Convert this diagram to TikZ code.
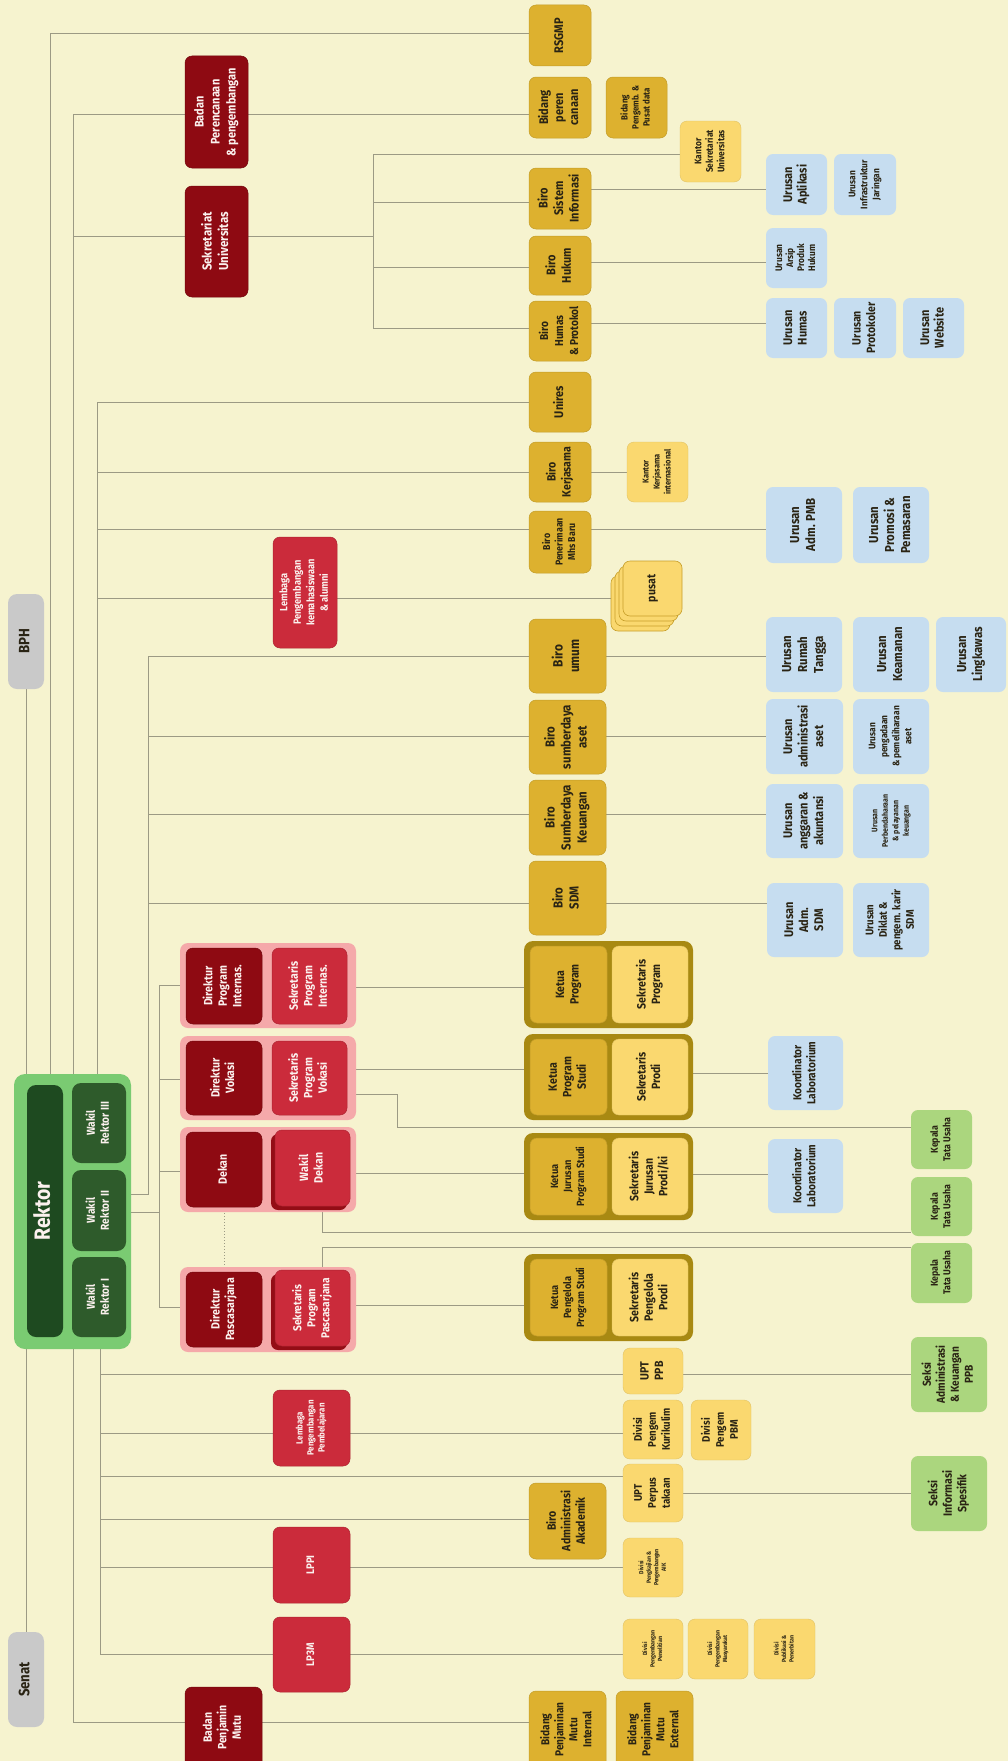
\documentclass[tikz,border=0pt]{standalone}
\usepackage{fontspec}
\setmainfont{Fira Sans}[FakeStretch=0.88]
\usepackage{graphicx}
\usetikzlibrary{calc}
\pgfdeclarelayer{bg}
\pgfsetlayers{bg,main}
\definecolor{bgc}{HTML}{F6F3CF}
\definecolor{linec}{HTML}{9C9A84}
\definecolor{dredc}{HTML}{8E0A12}
\definecolor{redc}{HTML}{CB2B3B}
\definecolor{pinkc}{HTML}{F5A9AA}
\definecolor{goldc}{HTML}{DDB12F}
\definecolor{goldgc}{HTML}{A88912}
\definecolor{yelc}{HTML}{FAD86F}
\definecolor{bluec}{HTML}{C6DDF0}
\definecolor{grnc}{HTML}{ABD67E}
\definecolor{rekgc}{HTML}{7ACB72}
\definecolor{dgrnc}{HTML}{1E4A20}
\definecolor{mgrnc}{HTML}{2E5B2B}
\definecolor{greyc}{HTML}{C9C9C9}
\definecolor{txtd}{HTML}{2A2414}
\definecolor{txtw}{HTML}{FBF1EE}
\newcommand{\fz}[2]{\fontsize{#1}{#2}\selectfont}
\newcommand{\ob}[8]{%
  \node[#2, minimum width={(#5)-(#3)}, minimum height={(#6)-(#4)}] (#1)
    at ({((#3)+(#5))/2},{((#4)+(#6))/2})
    {\rotatebox{90}{#7\begin{tabular}{@{}c@{}}#8\end{tabular}}};}
\newcommand{\gb}[6]{%
  \node[#2, minimum width={(#5)-(#3)}, minimum height={(#6)-(#4)}] (#1)
    at ({((#3)+(#5))/2},{((#4)+(#6))/2}) {};}
\newcommand{\hc}[3]{\draw[conn] (#1.east |- 0,#3) -- (#2.west |- 0,#3);}
\tikzset{
  bx/.style={rounded corners=7pt, inner sep=0pt, outer sep=0pt, font=\bfseries},
  sgold/.style={bx, fill=goldc, draw=goldc!88!black, line width=0.5pt, text=txtd},
  syel/.style={bx, fill=yelc, draw=yelc!90!black, line width=0.4pt, text=txtd},
  spus/.style={bx, fill=yelc, draw=goldc!90!black, line width=0.6pt, text=txtd},
  sblue/.style={bx, fill=bluec, text=txtd},
  sgrn/.style={bx, fill=grnc, text=txtd},
  sdred/.style={bx, fill=dredc, draw=dredc!80!black, line width=0.5pt, text=txtw},
  sred/.style={bx, fill=redc, draw=redc!85!black, line width=0.5pt, text=txtw},
  spink/.style={bx, rounded corners=8pt, fill=pinkc},
  sgoldg/.style={bx, rounded corners=9pt, fill=goldgc},
  srekg/.style={bx, rounded corners=11pt, fill=rekgc},
  sdgrn/.style={bx, rounded corners=9pt, fill=dgrnc, text=txtw},
  smgrn/.style={bx, rounded corners=9pt, fill=mgrnc, text=txtw},
  sgrey/.style={bx, rounded corners=9pt, fill=greyc, text=txtd},
  conn/.style={draw=linec, line width=1pt},
}
\begin{document}
\begin{tikzpicture}[x=1pt,y=-1pt]
\useasboundingbox (0,0) rectangle (1008,1761);

% ---------- top part ----------
\ob{rsgmp}{sgold}{529}{5}{591}{66}{\fz{12.5}{15}}{RSGMP}
\ob{bapp}{sdred}{185}{56}{248}{168}{\fz{12.5}{16}}{Badan\\Perencanaan\\\& pengembangan}
\ob{sekuniv}{sdred}{185}{186}{248}{297}{\fz{13}{16.5}}{Sekretariat\\Universitas}
\ob{bperen}{sgold}{529}{77}{591}{138}{\fz{12.5}{15}}{Bidang\\peren\\canaan}
\ob{bpengemb}{sgold}{606}{77}{667}{138}{\fz{9}{11}}{Bidang\\Pengemb. \&\\Pusat data}
\ob{kantorsek}{syel}{680}{121}{741}{182}{\fz{9.5}{11.5}}{Kantor\\Sekretariat\\Universitas}
\ob{bsi}{sgold}{529}{168}{591}{229}{\fz{12.5}{15.5}}{Biro\\Sistem\\Informasi}
\ob{bhukum}{sgold}{529}{236}{591}{295}{\fz{12.5}{15.5}}{Biro\\Hukum}
\ob{bhumas}{sgold}{529}{301}{591}{361}{\fz{11.5}{15}}{Biro\\Humas\\\& Protokol}
\ob{unires}{sgold}{529}{372}{591}{432}{\fz{12.5}{15}}{Unires}
\ob{uapl}{sblue}{766}{154}{827}{215}{\fz{12.5}{14.5}}{Urusan\\Aplikasi}
\ob{uinfra}{sblue}{834}{154}{896}{215}{\fz{9.5}{12}}{Urusan\\Infrastruktur\\Jaringan}
\ob{uarsip}{sblue}{766}{228}{827}{288}{\fz{9.5}{11}}{Urusan\\Arsip\\Produk\\Hukum}
\ob{uhumas}{sblue}{766}{298}{827}{358}{\fz{12.5}{14.5}}{Urusan\\Humas}
\ob{uprot}{sblue}{834}{298}{896}{358}{\fz{12}{14.5}}{Urusan\\Protokoler}
\ob{uweb}{sblue}{903}{298}{964}{358}{\fz{12.5}{14.5}}{Urusan\\Website}

\ob{bph}{sgrey}{8}{594}{44}{689}{\fz{15}{17}}{BPH}
\ob{lkema}{sred}{273}{537}{337}{648}{\fz{10.5}{13.5}}{Lembaga\\Pengembangan\\kemahasiswaan\\\& alumni}
\ob{bkerja}{sgold}{529}{442}{591}{502}{\fz{12}{15}}{Biro\\Kerjasama}
\ob{kkerja}{syel}{627}{442}{688}{502}{\fz{8.5}{11}}{Kantor\\Kerjasama\\internasional}
\ob{bpmb}{sgold}{529}{511}{591}{573}{\fz{10}{12.5}}{Biro\\Penerimaan\\Mhs Baru}
\gb{p3}{spus}{611}{576}{670}{631}
\gb{p2}{spus}{615}{571}{674}{626}
\gb{p1}{spus}{619}{566}{678}{621}
\ob{pusat}{spus}{623}{561}{682}{616}{\fz{12}{14}}{pusat}

\ob{bumum}{sgold}{529}{619}{606}{693}{\fz{13.5}{16.5}}{Biro\\umum}
\ob{baset}{sgold}{529}{700}{606}{774}{\fz{13}{16}}{Biro\\sumberdaya\\aset}
\ob{bkeu}{sgold}{529}{780}{606}{855}{\fz{13}{16}}{Biro\\Sumberdaya\\Keuangan}
\ob{bsdm}{sgold}{529}{861}{606}{935}{\fz{13}{16}}{Biro\\SDM}
\ob{uadmpmb}{sblue}{766}{487}{842}{563}{\fz{13}{16}}{Urusan\\Adm. PMB}
\ob{upromosi}{sblue}{853}{487}{929}{563}{\fz{13}{16}}{Urusan\\Promosi \&\\Pemasaran}
\ob{urumah}{sblue}{766}{617}{842}{692}{\fz{13}{16}}{Urusan\\Rumah\\Tangga}
\ob{ukeam}{sblue}{853}{617}{929}{692}{\fz{13}{16}}{Urusan\\Keamanan}
\ob{uling}{sblue}{936}{617}{1006}{692}{\fz{13}{16}}{Urusan\\Lingkawas}
\ob{uadmaset}{sblue}{766}{699}{843}{774}{\fz{12.5}{15.5}}{Urusan\\administrasi\\aset}
\ob{upengadaan}{sblue}{853}{699}{929}{774}{\fz{9.5}{12}}{Urusan\\pengadaan\\\& pemeliharaan\\aset}
\ob{uanggaran}{sblue}{766}{784}{843}{858}{\fz{12.5}{15.5}}{Urusan\\anggaran \&\\akuntansi}
\ob{uperbend}{sblue}{853}{784}{929}{858}{\fz{8}{10.5}}{Urusan\\Perbendaharaan\\\& pelayanan\\keuangan}
\ob{uadmsdm}{sblue}{767}{883}{843}{957}{\fz{12.5}{15}}{Urusan\\Adm.\\SDM}
\ob{udiklat}{sblue}{853}{883}{929}{957}{\fz{11}{13.5}}{Urusan\\Diklat \&\\pengem. karir\\SDM}

% ---------- Rektor ----------
\gb{rekout}{srekg}{14}{1074}{131}{1349}
\ob{rektor}{sdgrn}{27}{1085}{63}{1337}{\fz{22}{24}}{Rektor}
\ob{wr3}{smgrn}{72}{1083}{126}{1163}{\fz{11.5}{14}}{Wakil\\Rektor III}
\ob{wr2}{smgrn}{72}{1170}{126}{1251}{\fz{11.5}{14}}{Wakil\\Rektor II}
\ob{wr1}{smgrn}{72}{1257}{126}{1337}{\fz{11.5}{14}}{Wakil\\Rektor I}

% ---------- faculties ----------
\gb{g1}{spink}{180}{943}{356}{1028}
\gb{g2}{spink}{180}{1036}{356}{1120}
\gb{g3}{spink}{180}{1127}{356}{1212}
\gb{g4}{spink}{180}{1267}{356}{1352}
\ob{d1}{sdred}{186}{948}{262}{1024}{\fz{12}{14.5}}{Direktur\\Program\\Internas.}
\ob{s1}{sred}{272}{948}{347}{1024}{\fz{12}{14.5}}{Sekretaris\\Program\\Internas.}
\ob{d2}{sdred}{186}{1041}{262}{1115}{\fz{12}{14.5}}{Direktur\\Vokasi}
\ob{s2}{sred}{272}{1041}{347}{1115}{\fz{12}{14.5}}{Sekretaris\\Program\\Vokasi}
\ob{dekan}{sdred}{186}{1132}{262}{1207}{\fz{12}{14.5}}{Dekan}
\fill[dredc!90!redc, rounded corners=7pt] (271,1134) rectangle (347,1210);
\ob{wdekan}{sred}{275}{1130}{350}{1206}{\fz{12}{14.5}}{Wakil\\Dekan}
\ob{dpasca}{sdred}{186}{1272}{262}{1347}{\fz{12}{14.5}}{Direktur\\Pascasarjana}
\fill[dredc!90!redc, rounded corners=7pt] (271,1274) rectangle (347,1350);
\ob{spasca}{sred}{275}{1270}{350}{1346}{\fz{11.5}{14}}{Sekretaris\\Program\\Pascasarjana}

\gb{k1g}{sgoldg}{524}{941}{693}{1028}
\gb{k2g}{sgoldg}{524}{1034}{693}{1120}
\gb{k3g}{sgoldg}{524}{1133}{693}{1220}
\gb{k4g}{sgoldg}{524}{1254}{693}{1341}
\ob{k1}{sgold}{530}{946}{607}{1023}{\fz{12}{14.5}}{Ketua\\Program}
\ob{sp1}{syel}{612}{946}{688}{1023}{\fz{12}{14.5}}{Sekretaris\\Program}
\ob{k2}{sgold}{530}{1039}{607}{1115}{\fz{12}{14.5}}{Ketua\\Program\\Studi}
\ob{sp2}{syel}{612}{1039}{688}{1115}{\fz{12}{14.5}}{Sekretaris\\Prodi}
\ob{k3}{sgold}{530}{1138}{607}{1215}{\fz{10.5}{13}}{Ketua\\Jurusan\\Program Studi}
\ob{sp3}{syel}{612}{1138}{688}{1215}{\fz{12}{14.5}}{Sekretaris\\Jurusan\\Prodi/ki}
\ob{k4}{sgold}{530}{1259}{607}{1336}{\fz{10.5}{13}}{Ketua\\Pengelola\\Program Studi}
\ob{sp4}{syel}{612}{1259}{688}{1336}{\fz{12}{14.5}}{Sekretaris\\Pengelola\\Prodi}

\ob{kor1}{sblue}{768}{1036}{843}{1110}{\fz{11.5}{14}}{Koordinator\\Laboratorium}
\ob{kor2}{sblue}{768}{1139}{843}{1213}{\fz{11.5}{14}}{Koordinator\\Laboratorium}
\ob{ktu1}{sgrn}{911}{1110}{972}{1169}{\fz{10}{12.5}}{Kepala\\Tata Usaha}
\ob{ktu2}{sgrn}{911}{1177}{972}{1236}{\fz{10}{12.5}}{Kepala\\Tata Usaha}
\ob{ktu3}{sgrn}{911}{1243}{972}{1303}{\fz{10}{12.5}}{Kepala\\Tata Usaha}

% ---------- bottom part ----------
\ob{senat}{sgrey}{8}{1632}{44}{1727}{\fz{15}{17}}{Senat}
\ob{llp}{sred}{273}{1390}{350}{1466}{\fz{9}{11}}{Lembaga\\Pengembangan\\Pembelajaran}
\ob{lppi}{sred}{273}{1527}{350}{1603}{\fz{11}{13}}{LPPI}
\ob{lp3m}{sred}{273}{1617}{350}{1692}{\fz{11}{13}}{LP3M}
\ob{bpm}{sdred}{185}{1687}{262}{1768}{\fz{12}{14.5}}{Badan\\Penjamin\\Mutu}
\ob{uptppb}{syel}{623}{1348}{683}{1394}{\fz{12}{14.5}}{UPT\\PPB}
\ob{divkur}{syel}{623}{1400}{683}{1459}{\fz{11}{14}}{Divisi\\Pengem\\Kurikulim}
\ob{divpbm}{syel}{691}{1400}{751}{1460}{\fz{11}{14}}{Divisi\\Pengem\\PBM}
\ob{uptperpus}{syel}{623}{1464}{683}{1522}{\fz{11}{14}}{UPT\\Perpus\\takaan}
\ob{baa}{sgold}{529}{1483}{606}{1559}{\fz{12}{14.5}}{Biro\\Administrasi\\Akademik}
\ob{divaik}{syel}{623}{1538}{683}{1597}{\fz{6}{7.5}}{Divisi\\Pengkajian \&\\Pengembangan\\AIK}
\ob{divpen}{syel}{623}{1619}{683}{1679}{\fz{6}{7.5}}{Divisi\\Pengembangan\\Penelitian}
\ob{divmas}{syel}{688}{1619}{748}{1679}{\fz{6}{7.5}}{Divisi\\Pengembangan\\Masyarakat}
\ob{divpub}{syel}{754}{1619}{815}{1679}{\fz{6}{7.5}}{Divisi\\Publikasi \&\\Penerbitan}
\ob{bpmi}{sgold}{529}{1691}{606}{1768}{\fz{11.5}{14}}{Bidang\\Penjaminan\\Mutu\\Internal}
\ob{bpme}{sgold}{616}{1691}{693}{1768}{\fz{11.5}{14}}{Bidang\\Penjaminan\\Mutu\\External}
\ob{seksiadm}{sgrn}{911}{1337}{987}{1412}{\fz{11.5}{14}}{Seksi\\Administrasi\\\& Keuangan\\PPB}
\ob{seksiinfo}{sgrn}{911}{1456}{987}{1531}{\fz{12}{14.5}}{Seksi\\Informasi\\Spesifik}

% ---------- connectors ----------
\begin{pgfonlayer}{bg}
\fill[bgc] (0,0) rectangle (1008,1761);
\draw[conn] (bph.south) -- (bph.south |- rekout.north);
\draw[conn] (senat.north) -- (senat.north |- rekout.south);
% trunk 1
\coordinate (t1) at (50,34);
\draw[conn] (t1 |- rekout.north) -- (t1) -- (t1 -| rsgmp.west);
% trunk 2
\coordinate (t2a) at (73,114);
\coordinate (t2b) at (73,236);
\draw[conn] (t2a |- rekout.north) -- (t2a) -- (t2a -| bperen.west);
\coordinate (sj) at (373,236);
\draw[conn] (t2b) -- (sj);
\coordinate (sja) at (373,154);
\coordinate (sjb) at (373,202);
\coordinate (sjc) at (373,267);
\coordinate (sjd) at (373,328);
\draw[conn] (sja -| kantorsek.west) -- (sja) -- (sjd) -- (sjd -| bhumas.west);
\draw[conn] (sjb) -- (sjb -| bsi.west);
\draw[conn] (sjc) -- (sjc -| bhukum.west);
% trunk 3
\coordinate (t3a) at (97,402);
\coordinate (t3b) at (97,472);
\coordinate (t3c) at (97,529);
\coordinate (t3d) at (97,598);
\draw[conn] (t3a |- rekout.north) -- (t3a) -- (t3a -| unires.west);
\draw[conn] (t3b) -- (t3b -| bkerja.west);
\draw[conn] (t3c) -- (t3c -| bpmb.west);
\draw[conn] (t3d) -- (t3d -| p3.west);
% trunk 4
\coordinate (t4a) at (148,656);
\coordinate (t4b) at (148,736);
\coordinate (t4c) at (148,814);
\coordinate (t4d) at (148,903);
\coordinate (t4e) at (148,1194);
\draw[conn] (t4a -| bumum.west) -- (t4a) -- (t4e) -- (t4e -| rekout.east);
\draw[conn] (t4b) -- (t4b -| baset.west);
\draw[conn] (t4c) -- (t4c -| bkeu.west);
\draw[conn] (t4d) -- (t4d -| bsdm.west);
% trunk 5
\coordinate (t5a) at (159,985);
\coordinate (t5b) at (159,1079);
\coordinate (t5c) at (159,1171);
\coordinate (t5d) at (159,1307);
\coordinate (t5w) at (159,1212);
\draw[conn] (t5a -| g1.west) -- (t5a) -- (t5d) -- (t5d -| g4.west);
\draw[conn] (t5b) -- (t5b -| g2.west);
\draw[conn] (t5c) -- (t5c -| g3.west);
\draw[conn] (t5w) -- (t5w -| rekout.east);
\draw[conn, dotted, line width=0.9pt] (dekan.south) -- (dpasca.north);
% bottom trunks
\coordinate (t6) at (73,1722);
\draw[conn] (t6 |- rekout.south) -- (t6) -- (t6 -| bpmi.west);
\coordinate (t7a) at (100,1374);
\coordinate (t7b) at (100,1433);
\coordinate (t7c) at (100,1476);
\coordinate (t7d) at (100,1519);
\coordinate (t7e) at (100,1567);
\coordinate (t7f) at (100,1654);
\draw[conn] (t7a |- rekout.south) -- (t7f) -- (t7f -| divpen.west);
\draw[conn] (t7a) -- (t7a -| uptppb.west);
\draw[conn] (t7b) -- (t7b -| divkur.west);
\draw[conn] (t7c) -- (t7c -| uptperpus.west);
\draw[conn] (t7d) -- (t7d -| baa.west);
\draw[conn] (t7e) -- (t7e -| divaik.west);
% right-side connectors
\hc{bsi}{uapl}{189}
\hc{bhukum}{uarsip}{262}
\hc{bhumas}{uhumas}{323}
\hc{bkerja}{kkerja}{472}
\hc{bpmb}{uadmpmb}{529}
\hc{bumum}{urumah}{656}
\hc{baset}{uadmaset}{736}
\hc{bkeu}{uanggaran}{814}
\hc{bsdm}{uadmsdm}{903}
\hc{g1}{k1g}{987}
\hc{g2}{k2g}{1069}
\hc{g3}{k3g}{1173}
\hc{g4}{k4g}{1305}
\hc{k2g}{kor1}{1073}
\hc{k3g}{kor2}{1174}
\hc{uptppb}{seksiadm}{1374}
\hc{uptperpus}{seksiinfo}{1493}
% Kepala Tata Usaha links
\coordinate (kv1) at (397,1094);
\coordinate (kv2) at (397,1127);
\draw[conn] (kv1 -| g2.east) -- (kv1) -- (kv2) -- (kv2 -| ktu1.west);
\coordinate (kw1) at (322,1232);
\draw[conn] (g3.south -| kw1) -- (kw1) -- (kw1 -| ktu2.west);
\coordinate (kw2) at (322,1247);
\draw[conn] (g4.north -| kw2) -- (kw2) -- (kw2 -| ktu3.west);
\end{pgfonlayer}
\end{tikzpicture}
\end{document}
